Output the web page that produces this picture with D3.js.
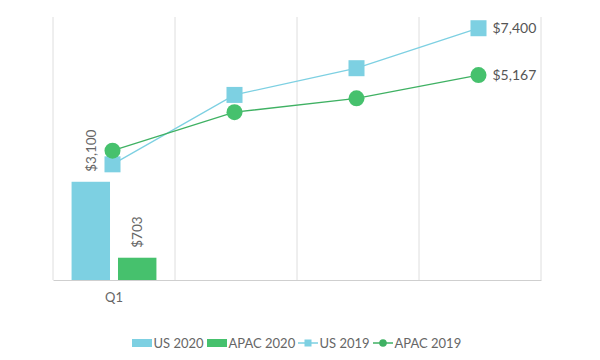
<!DOCTYPE html>
<html><head><meta charset="utf-8">
<script src="https://cdn.jsdelivr.net/npm/d3@7"></script>
<style>body{margin:0;background:#fff}svg{display:block;font-family:Lato,"Open Sans",sans-serif}</style>
</head><body><svg id="c" width="600" height="360"></svg>
<script>
const categories = ["Q1", "Q2", "Q3", "Q4"];
const tickLabels = ["Q1", "", "", ""];
const us2020 = [3100];
const apac2020 = [703];
const us2019 = [3400, 5440, 6225, 7400];
const apac2019 = [3260, 4230, 4580, 5167];
const barSeries = ["US 2020", "APAC 2020"];
const lineSeries = ["US 2019", "APAC 2019"];

const C = {us: "#7dd0e2", apac: "#46c16d", usLine: "#7dd0e2", apacLine: "#3fb163"};
const svg = d3.select("#c");
const m = {l: 53, r: 59, t: 17, b: 80};
const W = 600 - m.l - m.r, H = 360 - m.t - m.b;
const g = svg.append("g").attr("transform", `translate(${m.l},${m.t})`);

const x = d3.scaleBand().domain(categories).range([0, W]);
const xb = d3.scaleBand().domain(barSeries).range([0, x.bandwidth()]).paddingOuter(0.4).paddingInner(0.172);
const y = d3.scaleLinear().domain([0, 8300]).range([H, 0]);
const yUS = d3.scaleLinear().domain([0, 7730]).range([H, 0]);
const yAP = d3.scaleLinear().domain([0, 6630]).range([H, 0]);

// vertical gridlines
const bounds = categories.map(c => x(c)).concat([W]);
g.selectAll(".grid").data(bounds).join("line")
  .attr("x1", d => d).attr("x2", d => d).attr("y1", 0).attr("y2", H)
  .attr("stroke", "#dedede").attr("stroke-width", 1);

// x axis
const xa = g.append("g").attr("transform", `translate(0,${H})`)
  .call(d3.axisBottom(x).tickSize(0).tickPadding(13).tickFormat((d, i) => tickLabels[i]));
xa.select(".domain").attr("stroke", "#cfcfcf");
xa.selectAll("text").attr("fill", "#666").attr("font-size", 13).attr("font-family", "Lato");

// bars
const barData = [
  {s: "US 2020", v: us2020[0], c: C.us, cat: categories[0]},
  {s: "APAC 2020", v: apac2020[0], c: C.apac, cat: categories[0]}
];
g.selectAll(".bar").data(barData).join("rect")
  .attr("x", d => x(d.cat) + xb(d.s)).attr("width", xb.bandwidth())
  .attr("y", d => y(d.v)).attr("height", d => H - y(d.v)).attr("fill", d => d.c);
const fmt = v => "$" + d3.format(",")(v);
g.selectAll(".blab").data(barData).join("text")
  .attr("transform", d => `translate(${x(d.cat) + xb(d.s) + xb.bandwidth() / 2 + 5},${y(d.v) - 10}) rotate(-90)`)
  .attr("font-size", 13.5).attr("fill", "#666").text(d => fmt(d.v));

// lines
const cx = d => x(d) + x.bandwidth() / 2 - 1.5;
const lineUS = d3.line().x((d, i) => cx(categories[i])).y(d => yUS(d));
const lineAP = d3.line().x((d, i) => cx(categories[i])).y(d => yAP(d));
g.append("path").attr("d", lineUS(us2019)).attr("fill", "none").attr("stroke", C.usLine).attr("stroke-width", 1.3);
g.append("path").attr("d", lineAP(apac2019)).attr("fill", "none").attr("stroke", C.apacLine).attr("stroke-width", 1.3);
g.selectAll(".sq").data(us2019).join("rect")
  .attr("x", (d, i) => cx(categories[i]) - 8).attr("y", d => yUS(d) - 8)
  .attr("width", 16).attr("height", 16).attr("fill", C.us);
g.selectAll(".ci").data(apac2019).join("circle")
  .attr("cx", (d, i) => cx(categories[i])).attr("cy", d => yAP(d)).attr("r", 8).attr("fill", C.apac);
const last = categories.length - 1;
g.append("text").attr("x", cx(categories[last]) + 14).attr("y", yUS(us2019[last])).attr("dy", "0.35em")
  .attr("font-size", 14).attr("fill", "#555").text(fmt(us2019[last]));
g.append("text").attr("x", cx(categories[last]) + 14).attr("y", yAP(apac2019[last])).attr("dy", "0.35em")
  .attr("font-size", 14).attr("fill", "#555").text(fmt(apac2019[last]));

// legend
const lg = svg.append("g").attr("font-size", 13).attr("fill", "#666");
const ly = 343;
const items = [
  {t: barSeries[0], type: "bar", c: C.us, x: 132},
  {t: barSeries[1], type: "bar", c: C.apac, x: 207},
  {t: lineSeries[0], type: "sq", c: C.usLine, x: 298},
  {t: lineSeries[1], type: "ci", c: C.apacLine, x: 373}
];
items.forEach(it => {
  if (it.type === "bar") {
    lg.append("rect").attr("x", it.x).attr("y", ly - 4).attr("width", 20).attr("height", 8).attr("fill", it.c);
  } else {
    lg.append("line").attr("x1", it.x).attr("x2", it.x + 20).attr("y1", ly).attr("y2", ly).attr("stroke", it.c).attr("stroke-width", 1.5);
    if (it.type === "sq") lg.append("rect").attr("x", it.x + 6.5).attr("y", ly - 3.5).attr("width", 7).attr("height", 7).attr("fill", it.c);
    else lg.append("circle").attr("cx", it.x + 10).attr("cy", ly).attr("r", 3.8).attr("fill", it.c);
  }
  lg.append("text").attr("x", it.x + 21.5).attr("y", ly).attr("dy", "0.36em").text(it.t);
});
</script></body></html>
